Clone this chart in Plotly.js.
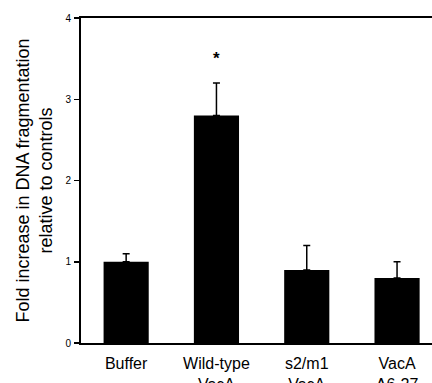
<!DOCTYPE html>
<html>
<head>
<meta charset="utf-8">
<script src="https://cdn.plot.ly/plotly-3.0.1.min.js"></script>
<style>html,body{margin:0;padding:0;background:#fff;}#chart{width:432px;height:383px;}</style>
</head>
<body>
<div id="chart"></div>
<script>
const categories = ["Buffer", "Wild-type<br>VacA", "s2/m1<br>VacA", "VacA<br>Δ6-27"];
const foldIncrease = [1.0, 2.8, 0.9, 0.8];
const errorUpper = [0.1, 0.4, 0.3, 0.2];
const errorLower = [0, 0, 0, 0];
const yTickValues = [0, 1, 2, 3, 4];
const significanceMark = "*";
const significanceCategory = categories[1];
const significanceY = 3.5;

const FONT = "Liberation Sans, Arial, Helvetica, sans-serif";

const trace = {
  type: "bar",
  x: categories,
  y: foldIncrease,
  marker: {color: "#000000", line: {width: 0}},
  error_y: {
    type: "data",
    symmetric: false,
    array: errorUpper,
    arrayminus: errorLower,
    color: "#000000",
    thickness: 1.5,
    width: 3.5
  },
  hoverinfo: "skip"
};

const layout = {
  width: 432,
  height: 383,
  margin: {l: 81, r: 0, t: 18, b: 40, pad: 0},
  paper_bgcolor: "#ffffff",
  plot_bgcolor: "#ffffff",
  showlegend: false,
  bargap: 0.5,
  font: {family: FONT, color: "#000000"},
  xaxis: {
    type: "category",
    range: [-0.5, 3.387],
    showline: true,
    linecolor: "#000000",
    linewidth: 2,
    mirror: true,
    ticks: "",
    showgrid: false,
    zeroline: false,
    tickfont: {family: FONT, size: 16, color: "#000000"},
    ticklabelstandoff: 5
  },
  yaxis: {
    range: [0, 4],
    tickvals: yTickValues,
    ticktext: yTickValues.map(String),
    showline: true,
    linecolor: "#000000",
    linewidth: 2,
    ticks: "outside",
    ticklen: 5,
    tickwidth: 1.5,
    tickcolor: "#000000",
    showgrid: false,
    zeroline: false,
    tickfont: {family: FONT, size: 10, color: "#000000"},
    ticklabelstandoff: 1,
    title: {
      text: "Fold increase in DNA fragmentation<br>relative to controls",
      font: {family: FONT, size: 18, color: "#000000"},
      standoff: 8
    }
  },
  annotations: [{
    x: significanceCategory,
    y: significanceY,
    xref: "x",
    yref: "y",
    text: "<b>" + significanceMark + "</b>",
    showarrow: false,
    font: {family: FONT, size: 17, color: "#000000"},
    xanchor: "center",
    yanchor: "middle"
  }]
};

Plotly.newPlot("chart", [trace], layout, {displayModeBar: false, staticPlot: true});
</script>
</body>
</html>
